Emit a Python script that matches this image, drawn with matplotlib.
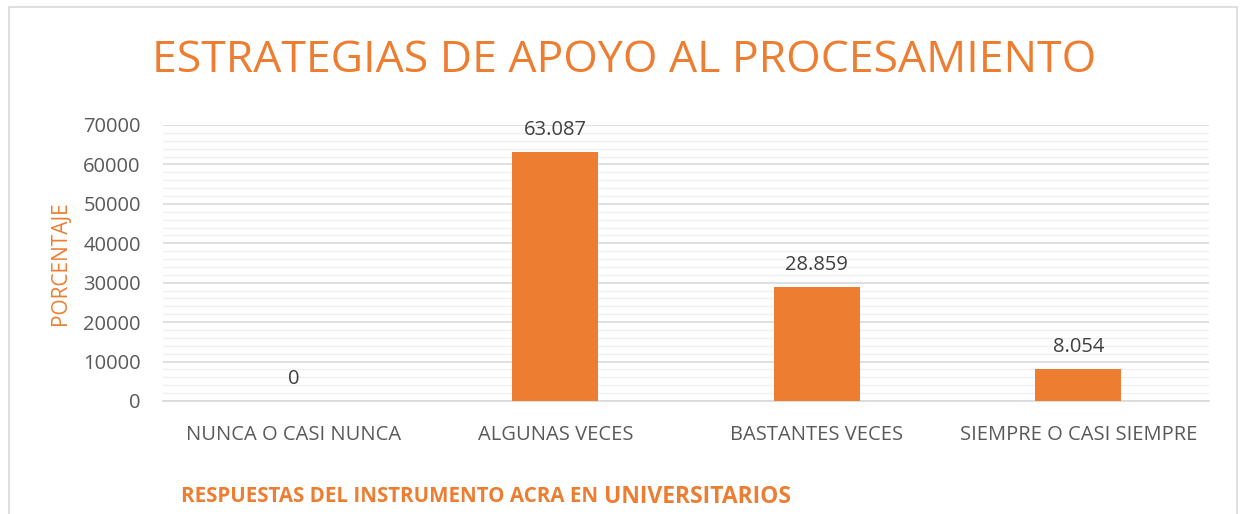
import matplotlib
matplotlib.use("Agg")
import matplotlib.pyplot as plt
from matplotlib.patches import Rectangle
from matplotlib.ticker import MultipleLocator

plt.rcParams["font.family"] = ["Open Sans", "DejaVu Sans"]

CATEGORIES = ["NUNCA O CASI NUNCA", "ALGUNAS VECES", "BASTANTES VECES", "SIEMPRE O CASI SIEMPRE"]
VALUES = [0, 63087, 28859, 8054]
VALUE_LABELS = ["0", "63.087", "28.859", "8.054"]

ORANGE = "#ED7D31"
GRAY_TEXT = "#595959"

fig = plt.figure(figsize=(12.45, 5.14), dpi=100)
fig.patch.set_facecolor("white")
fig.patches.append(Rectangle((9 / 1245, -0.05), 1228 / 1245, 1.05 - 7 / 514,
                             transform=fig.transFigure, fill=False,
                             edgecolor="#d9d9d9", linewidth=1.2))

ax = fig.add_axes([163 / 1245, 1 - 401 / 514, (1209 - 163) / 1245, (401 - 125) / 514])
x = list(range(len(CATEGORIES)))
ax.bar(x, VALUES, width=0.33, color=ORANGE, zorder=3)
for xi, v, lab in zip(x, VALUES, VALUE_LABELS):
    ax.annotate(lab, (xi, v), xytext=(0, 9), textcoords="offset points",
                ha="center", va="bottom", fontsize=14.5, color="#404040")

ax.set_xlim(-0.5, 3.5)
ax.set_ylim(0, 70000)
ax.yaxis.set_major_locator(MultipleLocator(10000))
ax.yaxis.set_minor_locator(MultipleLocator(2000))
ax.grid(which="major", axis="y", color="#d9d9d9", linewidth=1.2, zorder=0)
ax.grid(which="minor", axis="y", color="#f0f0f0", linewidth=1.0, zorder=0)
ax.set_axisbelow(True)
for s in ("top", "right", "left"):
    ax.spines[s].set_visible(False)
ax.spines["bottom"].set_color("#d9d9d9")
ax.spines["bottom"].set_linewidth(1.2)
ax.tick_params(axis="both", which="both", length=0, colors=GRAY_TEXT, labelsize=14.5)
ax.tick_params(axis="y", pad=16)
ax.tick_params(axis="x", pad=17)
ax.set_xticks(x)
ax.set_xticklabels(CATEGORIES)

ax.set_ylabel("PORCENTAJE", color=ORANGE, fontsize=15, labelpad=9)

fig.text(0.5015, 1 - 61 / 514, "ESTRATEGIAS DE APOYO AL PROCESAMIENTO",
         ha="center", va="center", color=ORANGE, fontsize=32)

t1 = fig.text(181 / 1245, 1 - 497 / 514, "RESPUESTAS DEL INSTRUMENTO ACRA EN ",
              ha="left", va="center", color=ORANGE, fontsize=14.8, fontweight="bold")
ax.annotate("UNIVERSITARIOS", xy=(1, 0.5), xycoords=t1, ha="left", va="center",
            color=ORANGE, fontsize=16.5, fontweight="bold", annotation_clip=False)

fig.savefig("out.png", dpi=100)
